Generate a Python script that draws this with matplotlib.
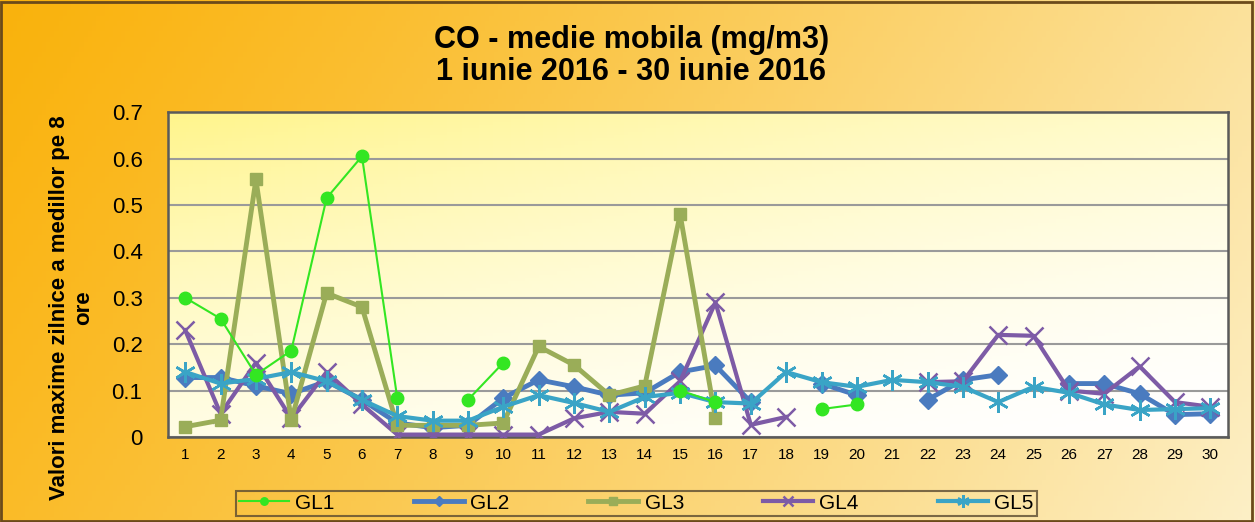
import numpy as np
import matplotlib
matplotlib.use('Agg')
import matplotlib.pyplot as plt

nan = np.nan
zile = list(range(1, 31))

gl1 = [0.30, 0.255, 0.134, 0.186, 0.515, 0.605, 0.083, nan, 0.08, 0.16,
       nan, nan, nan, nan, 0.10, 0.075, nan, nan, 0.06, 0.07,
       nan, nan, nan, nan, nan, nan, nan, nan, nan, nan]
gl2 = [0.128, 0.128, 0.11, 0.093, 0.12, 0.08, 0.03, 0.02, 0.025, 0.084,
       0.123, 0.108, 0.09, 0.095, 0.14, 0.154, 0.075, nan, 0.115, 0.09,
       nan, 0.08, 0.123, 0.134, nan, 0.115, 0.115, 0.093, 0.048, 0.05]
gl3 = [0.022, 0.036, 0.555, 0.036, 0.31, 0.28, 0.025, 0.025, 0.025, 0.03,
       0.195, 0.155, 0.09, 0.11, 0.48, 0.04, nan, nan, nan, nan,
       nan, nan, nan, nan, nan, nan, nan, nan, nan, nan]
gl4 = [0.23, 0.05, 0.16, 0.04, 0.14, 0.07, 0.005, 0.005, 0.005, 0.005,
       0.005, 0.04, 0.054, 0.05, 0.12, 0.29, 0.026, 0.043, nan, nan,
       nan, 0.118, 0.12, 0.22, 0.218, 0.10, 0.093, 0.152, 0.075, 0.065]
gl5 = [0.14, 0.115, 0.125, 0.14, 0.12, 0.08, 0.045, 0.035, 0.035, 0.065,
       0.09, 0.073, 0.054, 0.086, 0.095, 0.075, 0.072, 0.14, 0.118, 0.108,
       0.123, 0.118, 0.108, 0.075, 0.108, 0.095, 0.07, 0.058, 0.06, 0.062]

plt.rcParams['font.family'] = ['Liberation Sans', 'DejaVu Sans']

fig = plt.figure(figsize=(12.55, 5.22), dpi=100)

# fundal portocaliu -> galben deschis
bg = fig.add_axes([0, 0, 1, 1], zorder=-10)
gx = np.linspace(0, 1, 300)
gy = np.linspace(0, 1, 100)
X, Y = np.meshgrid(gx, gy)
t = np.clip(0.8 * X + 0.2 * Y, 0, 1) ** 1.2
c0 = np.array([0.98, 0.70, 0.05])
c1 = np.array([0.99, 0.94, 0.78])
img = c0[None, None, :] * (1 - t[..., None]) + c1[None, None, :] * t[..., None]
bg.imshow(img, extent=[0, 1, 0, 1], aspect='auto', origin='upper')
bg.set_axis_off()
fig.patches.append(plt.Rectangle((0.001, 0.002), 0.997, 0.995, transform=fig.transFigure,
                                 fill=False, edgecolor='#6b4a1a', linewidth=2))

ax = fig.add_axes([0.1335, 0.163, 0.845, 0.622])
ax.set_xlim(0.5, 30.5)
ax.set_ylim(0, 0.7)

# fundal zona graficului
pt = np.clip(0.6 * (1 - Y) + 0.4 * (1 - X), 0, 1) ** 1.6
p0 = np.array([1.0, 1.0, 1.0])
p1 = np.array([1.0, 0.96, 0.55])
pimg = p0[None, None, :] * (1 - pt[..., None]) + p1[None, None, :] * pt[..., None]
ax.imshow(pimg[::-1], extent=[0.5, 30.5, 0, 0.7], aspect='auto', origin='lower', zorder=0)

ax.set_yticks(np.arange(0, 0.71, 0.1))
ax.set_yticklabels(['0', '0.1', '0.2', '0.3', '0.4', '0.5', '0.6', '0.7'], fontsize=16)
ax.set_xticks(zile)
ax.set_xticklabels([str(z) for z in zile], fontsize=11)
ax.tick_params(axis='y', length=0, pad=18)
ax.tick_params(axis='x', length=0, pad=8)
ax.grid(axis='y', color='#9a9a9a', linewidth=1.5, zorder=1)
for s in ax.spines.values():
    s.set_color('#5a5a5a')
    s.set_linewidth(1.8)

ax.plot(zile, gl1, color='#33e622', marker='o', markersize=9, linewidth=1.5, label='GL1', zorder=6)
ax.plot(zile, gl2, color='#4a7bbf', marker='D', markersize=9, linewidth=3.5, label='GL2', zorder=3)
ax.plot(zile, gl3, color='#9aad58', marker='s', markersize=9, linewidth=3.5, label='GL3', zorder=4)
ax.plot(zile, gl4, color='#7d5ba6', marker='x', markersize=13, markeredgewidth=1.8, linewidth=3, label='GL4', zorder=3)
ax.plot(zile, gl5, color='#3aa4c6', marker=(6, 2, 0), markersize=15, markeredgewidth=1.8, linewidth=3, label='GL5', zorder=5)

fig.text(0.503, 0.893, 'CO - medie mobila (mg/m3)\n1 iunie 2016 - 30 iunie 2016',
         ha='center', va='center', fontsize=22, fontweight='bold', linespacing=1.1)
fig.text(0.057, 0.41, 'Valori maxime zilnice a medillor pe 8\nore', rotation=90,
         ha='center', va='center', fontsize=16, fontweight='bold', linespacing=1.25)

leg = fig.legend(loc='center', bbox_to_anchor=(0.507, 0.036), ncol=5, fontsize=15,
                 frameon=True, fancybox=False, handlelength=2.4, columnspacing=3.8,
                 handletextpad=0.3, borderpad=0.15, markerscale=0.6)
leg.get_frame().set_edgecolor('#5a4a30')
leg.get_frame().set_linewidth(1.5)
leg.get_frame().set_facecolor('none')

fig.savefig('out.png', dpi=100)
